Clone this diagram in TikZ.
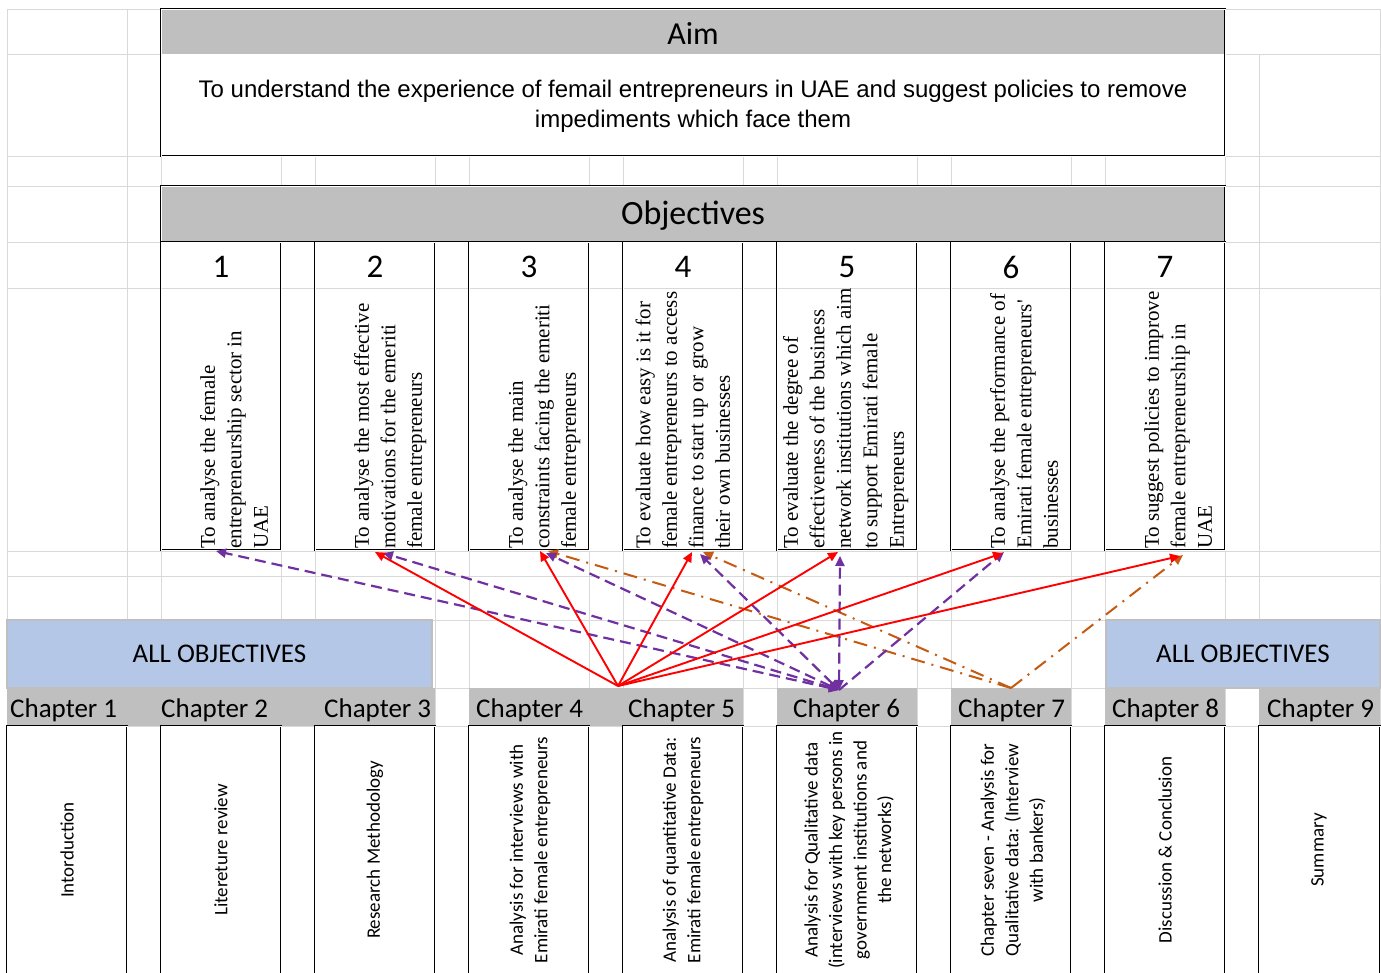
\documentclass[tikz,border=0pt]{standalone}
\usepackage{fontspec}
\setmainfont{Liberation Serif}
\newfontfamily\calib{Carlito}
\newfontfamily\arialf{Liberation Sans}
\newfontfamily\timesf{Liberation Serif}
\usetikzlibrary{arrows.meta}

\definecolor{gridc}{HTML}{D9D9D9}
\definecolor{headgray}{HTML}{BFBFBF}
\definecolor{allobj}{HTML}{B4C7E7}
\definecolor{allborder}{HTML}{BFBFBF}
\definecolor{redc}{HTML}{FF0000}
\definecolor{purc}{HTML}{7030A0}
\definecolor{orac}{HTML}{C55A11}

\begin{document}
\begin{tikzpicture}[x=1pt,y=-1pt,
  gridline/.style={draw=gridc, line width=0.9pt},
  cellbox/.style={draw=black, double=white, double distance=0.9pt, line width=1pt,
                  inner sep=0pt, outer sep=0pt},
  objbox/.style={cellbox, minimum height=308pt},
  chbox/.style={cellbox, fill=white, minimum height=249pt},
  allbox/.style={draw=allborder, line width=1.4pt, fill=allobj, minimum height=68pt,
                 inner sep=0pt, font=\calib\fontsize{27}{30}\selectfont},
  objnum/.style={font=\calib\fontsize{33}{36}\selectfont, inner sep=0pt},
  objtxt/.style={rotate=90, anchor=south west, align=left, inner sep=0pt,
                 font=\timesf\fontsize{21}{26.5}\selectfont},
  chtxt/.style={rotate=90, align=center, inner sep=0pt,
                font=\calib\fontsize{19}{24.5}\selectfont},
  chlab/.style={anchor=base west, inner sep=0pt, font=\calib\fontsize{27}{30}\selectfont},
  redarr/.style={draw=redc, line width=1.9pt, -{Triangle[length=10pt,width=9pt]}},
  purarr/.style={draw=purc, line width=2.2pt, dash pattern=on 11pt off 6pt,
                 {Triangle[length=10pt,width=9pt]}-{Triangle[length=10pt,width=9pt]}},
  purarr1/.style={draw=purc, line width=2.2pt, dash pattern=on 11pt off 6pt,
                 -{Triangle[length=10pt,width=9pt]}},
  oraarr/.style={draw=orac, line width=2pt, dash pattern=on 14pt off 7pt on 2pt off 7pt,
                 -{Triangle[length=10pt,width=9pt]}},
]
\useasboundingbox (0,0) rectangle (1381,972);
\clip (0,0) rectangle (1381,972);
\fill[white] (0,0) rectangle (1381,972);

% spreadsheet grid
\foreach \y in {9,156,186,242,288,551,576,620,688,726}
  \draw[gridline] (7,\y) -- (1380,\y);
\draw[gridline] (7,54) -- (161,54);
\draw[gridline] (1225,54) -- (1380,54);
\foreach \x in {7,127,161,281,315,435,469,589,623,743,777,917,951,1071,1105,1225,1380}
  \draw[gridline] (\x,9) -- (\x,972);
\draw[gridline] (1259,54) -- (1259,972);

% aim block
\fill[white] (161,9) rectangle (1225,156);
\fill[headgray] (161,9) rectangle (1225,54);
\node[cellbox, minimum width=1064pt, minimum height=147pt] (aim) at (693,82.5) {};
\node[font=\calib\fontsize{32}{36}\selectfont, inner sep=0pt] (aimtitle) at (693,33) {Aim};
\node[align=center, inner sep=0pt, font=\arialf\fontsize{24}{30}\selectfont] (aimtext) at (693,106)
  {To understand the experience of femail entrepreneurs in UAE and suggest policies to remove\\
   impediments which face them};

% objectives header
\node[cellbox, fill=headgray, minimum width=1064pt, minimum height=56pt] (objhead) at (693,214) {};
\node[font=\calib\fontsize{34}{38}\selectfont, inner sep=0pt] (objtitle) at (693,216) {Objectives};

% objective boxes
\node[objbox, minimum width=120pt] (o1) at (221,396) {};
\node[objbox, minimum width=120pt] (o2) at (375,396) {};
\node[objbox, minimum width=120pt] (o3) at (529,396) {};
\node[objbox, minimum width=120pt] (o4) at (683,396) {};
\node[objbox, minimum width=140pt] (o5) at (847,396) {};
\node[objbox, minimum width=120pt] (o6) at (1011,396) {};
\node[objbox, minimum width=120pt] (o7) at (1165,396) {};

\node[objnum] (n1) at (221,267) {1};
\node[objnum] (n2) at (375,267) {2};
\node[objnum] (n3) at (529,267) {3};
\node[objnum] (n4) at (683,267) {4};
\node[objnum] (n5) at (847,267) {5};
\node[objnum] (n6) at (1011,267) {6};
\node[objnum] (n7) at (1165,267) {7};

\node[objtxt] (t1) at (276,549) {To analyse the female\\entrepreneurship sector in\\UAE\strut};
\node[objtxt] (t2) at (430,549) {To analyse the most effective\\motivations for the emeriti\\female entrepreneurs\strut};
\node[objtxt] (t3) at (584,549) {To analyse the main\\constraints facing the emeriti\\female entrepreneurs\strut};
\node[objtxt] (t4) at (738,549) {To evaluate how easy is it for\\female entrepreneurs to access\\finance to start up or grow\\their own businesses\strut};
\node[objtxt] (t5) at (912,549) {To evaluate the degree of\\effectiveness of the business\\network institutions which aim\\to support Emirati female\\Entrepreneurs\strut};
\node[objtxt] (t6) at (1066,549) {To analyse the performance of\\Emirati female entrepreneurs'\\businesses\strut};
\node[objtxt] (t7) at (1220,549) {To suggest policies to improve\\female entrepreneurship in\\UAE\strut};

% "all objectives" banners
\node[allbox, minimum width=425pt] (allL) at (219.5,654) {ALL OBJECTIVES};
\node[allbox, minimum width=274pt] (allR) at (1243,654) {ALL OBJECTIVES};

% chapter band
\fill[headgray] (7,688) rectangle (435,726);
\fill[headgray] (469,688) rectangle (743,726);
\fill[headgray] (777,688) rectangle (917,726);
\fill[headgray] (951,688) rectangle (1071,726);
\fill[headgray] (1105,688) rectangle (1225,726);
\fill[headgray] (1259,688) rectangle (1380,726);

\node[chlab] (l1) at (10,717) {Chapter 1};
\node[chlab] (l2) at (161,717) {Chapter 2};
\node[chlab] (l3) at (324,717) {Chapter 3};
\node[chlab] (l4) at (476,717) {Chapter 4};
\node[chlab] (l5) at (628,717) {Chapter 5};
\node[chlab] (l6) at (793,717) {Chapter 6};
\node[chlab] (l7) at (958,717) {Chapter 7};
\node[chlab] (l8) at (1112,717) {Chapter 8};
\node[chlab] (l9) at (1267,717) {Chapter 9};

% chapter boxes
\node[chbox, minimum width=120pt] (c1) at (67,850.5) {};
\node[chbox, minimum width=120pt] (c2) at (221,850.5) {};
\node[chbox, minimum width=120pt] (c3) at (375,850.5) {};
\node[chbox, minimum width=120pt] (c4) at (529,850.5) {};
\node[chbox, minimum width=120pt] (c5) at (683,850.5) {};
\node[chbox, minimum width=140pt] (c6) at (847,850.5) {};
\node[chbox, minimum width=120pt] (c7) at (1011,850.5) {};
\node[chbox, minimum width=120pt] (c8) at (1165,850.5) {};
\node[chbox, minimum width=121pt] (c9) at (1319.5,850.5) {};

\node[chtxt] (x1) at (67,850) {Intorduction};
\node[chtxt] (x2) at (221,850) {Litereture review};
\node[chtxt] (x3) at (375,850) {Research Methodology};
\node[chtxt] (x4) at (530,850) {Analysis for interviews with\\Emirati female entrepreneurs};
\node[chtxt] (x5) at (683,850) {Analysis of quantitative Data:\\Emirati female entrepreneurs};
\node[chtxt] (x6) at (849,850) {Analysis for Qualitative data\\(interviews with key persons in\\government institutions and\\the networks)};
\node[chtxt] (x7) at (1013,850) {Chapter seven - Analysis for\\Qualitative data: (Interview\\with bankers)};
\node[chtxt] (x8) at (1165,850) {Discussion \& Conclusion};
\node[chtxt] (x9) at (1319,850) {Summary};

% hubs where the connectors meet on the chapter band
\coordinate (h4) at (618,686);
\coordinate (h6) at (839,690);
\coordinate (h7) at (1011,688);

% chapter 7 links (dash-dot)
\draw[oraarr] (h7) -- ([xshift=19pt,yshift=-1pt]o3.south);
\draw[oraarr] (h7) -- ([xshift=20pt,yshift=-2pt]o4.south);
\draw[oraarr] (h7) -- ([xshift=18pt,yshift=-5pt]o7.south);

% chapter 6 links (dashed)
\draw[purarr] (h6) -- ([xshift=-5pt,yshift=-1pt]o1.south);
\draw[purarr] (h6) -- ([xshift=8pt,yshift=-3pt]o2.south);
\draw[purarr] (h6) -- ([xshift=17pt,yshift=-3pt]o3.south);
\draw[purarr] (h6) -- ([xshift=17pt,yshift=-4pt]o4.south);
\draw[purarr] (h6) -- ([xshift=-7pt,yshift=-6pt]o5.south);
\draw[purarr1] (h6) -- ([xshift=-7pt,yshift=-2pt]o6.south);

% chapters 4 and 5 links (solid)
\draw[redarr] (h4) -- ([yshift=-2pt]o2.south);
\draw[redarr] (h4) -- ([xshift=11pt,yshift=-1pt]o3.south);
\draw[redarr] (h4) -- ([xshift=9pt,yshift=-2pt]o4.south);
\draw[redarr] (h4) -- ([xshift=-9pt,yshift=-2pt]o5.south);
\draw[redarr] (h4) -- ([xshift=-8pt,yshift=-3pt]o6.south);
\draw[redarr] (h4) -- ([xshift=15pt,yshift=-6pt]o7.south);
\end{tikzpicture}
\end{document}
